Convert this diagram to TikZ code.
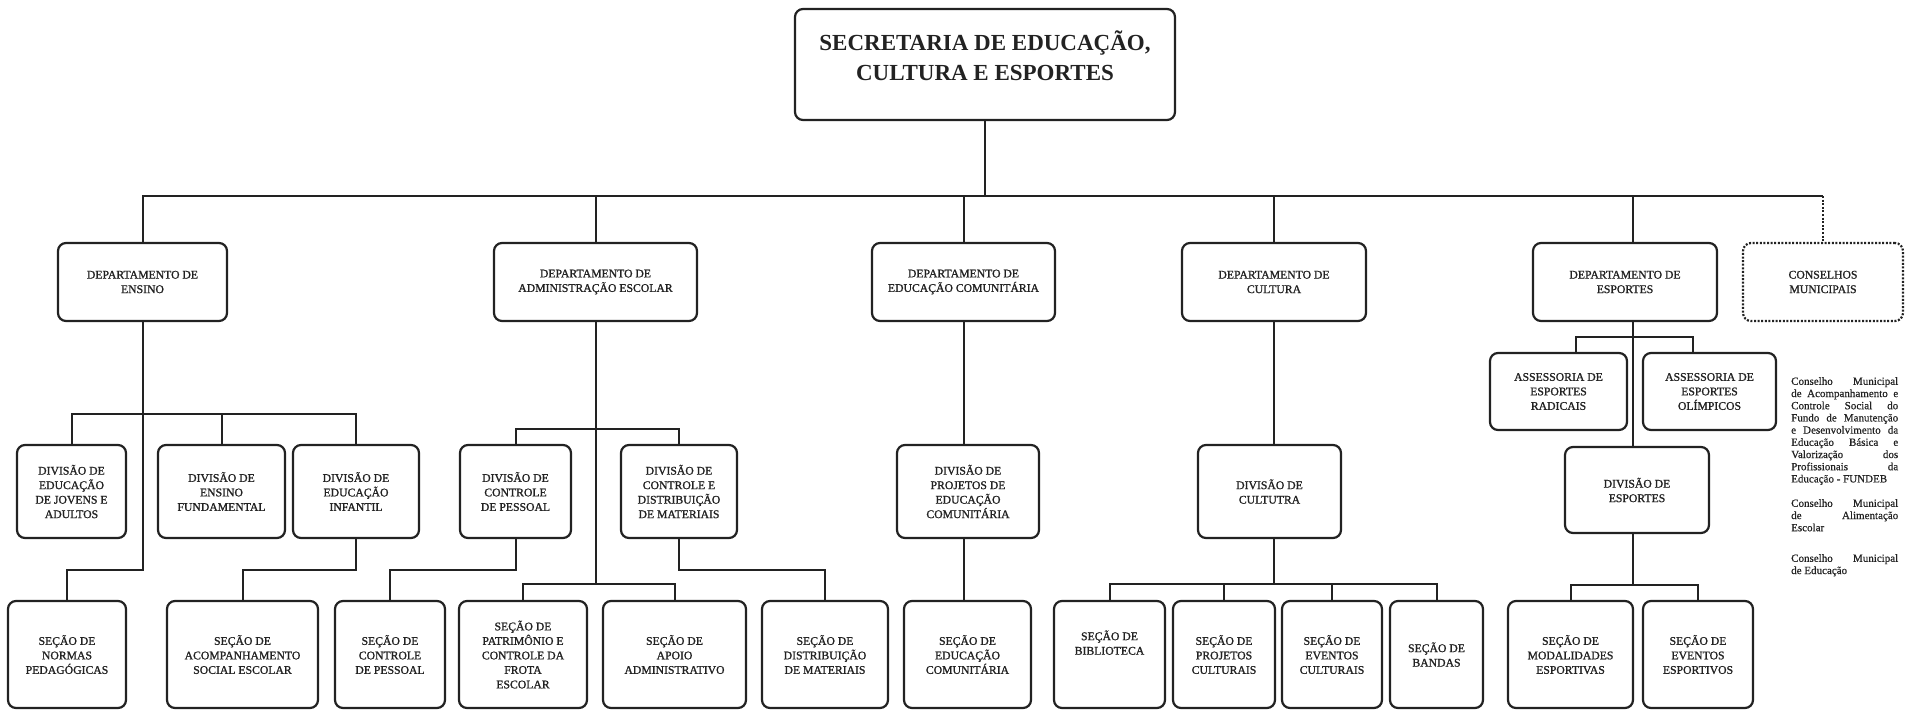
\documentclass[tikz,border=0pt]{standalone}
\usepackage{fontspec}
\setmainfont{Liberation Serif}
\newfontfamily\boxfont[FakeBold=1.2]{Liberation Serif}
\newfontfamily\notefont[FakeBold=0.6]{Liberation Serif}
\definecolor{linec}{HTML}{222222}
\begin{document}
\begin{tikzpicture}[x=1pt,y=-1pt,
  box/.style={draw=linec, line width=2.2pt, rounded corners=8pt, fill=white,
    inner sep=0pt, align=center, text=linec,
    font=\boxfont\fontsize{11.7}{14.5}\selectfont},
  dept/.style={box, minimum height=78pt},
  rowone/.style={box, minimum height=93pt},
  rowtwo/.style={box, minimum height=107pt},
  conn/.style={draw=linec, line width=2pt},
  dotline/.style={draw=linec, line width=2pt, dash pattern=on 2pt off 1.6pt},
  note/.style={anchor=north west, inner sep=0pt, align=left, text=linec,
    font=\notefont\fontsize{11}{12.2}\selectfont}]
\useasboundingbox (0,0) rectangle (1909,710);
% top
\node[box, minimum width=380pt, minimum height=111pt, text depth=18pt,
  font=\bfseries\fontsize{23}{30}\selectfont] (sec) at (985,64.5)
  {SECRETARIA DE EDUCAÇÃO,\\CULTURA E ESPORTES};
% departments
\node[dept, minimum width=169pt] (ens) at (142.5,282) {DEPARTAMENTO DE\\ENSINO};
\node[dept, minimum width=203pt] (adm) at (595.5,282) {DEPARTAMENTO DE\\ADMINISTRAÇÃO ESCOLAR};
\node[dept, minimum width=183pt] (edc) at (963.5,282) {DEPARTAMENTO DE\\EDUCAÇÃO COMUNITÁRIA};
\node[dept, minimum width=184pt] (cul) at (1274,282) {DEPARTAMENTO DE\\CULTURA};
\node[dept, minimum width=184pt] (esp) at (1625,282) {DEPARTAMENTO DE\\ESPORTES};
\node[dept, minimum width=160pt, dash pattern=on 2pt off 1.6pt] (con) at (1823,282) {CONSELHOS\\MUNICIPAIS};
% divisions
\node[rowone, minimum width=109pt] (jov) at (71.5,491.5) {DIVISÃO DE\\EDUCAÇÃO\\DE JOVENS E\\ADULTOS};
\node[rowone, minimum width=127pt] (fun) at (221.5,491.5) {DIVISÃO DE\\ENSINO\\FUNDAMENTAL};
\node[rowone, minimum width=126pt] (inf) at (356,491.5) {DIVISÃO DE\\EDUCAÇÃO\\INFANTIL};
\node[rowone, minimum width=111pt] (dcp) at (515.5,491.5) {DIVISÃO DE\\CONTROLE\\DE PESSOAL};
\node[rowone, minimum width=116pt] (dcd) at (679,491.5) {DIVISÃO DE\\CONTROLE E\\DISTRIBUIÇÃO\\DE MATERIAIS};
\node[rowone, minimum width=142pt] (dpe) at (968,491.5) {DIVISÃO DE\\PROJETOS DE\\EDUCAÇÃO\\COMUNITÁRIA};
\node[rowone, minimum width=143pt] (dcu) at (1269.5,491.5) {DIVISÃO DE\\CULTUTRA};
\node[box, minimum width=137pt, minimum height=77pt] (ara) at (1558.5,391.5) {ASSESSORIA DE\\ESPORTES\\RADICAIS};
\node[box, minimum width=133pt, minimum height=77pt] (aol) at (1709.5,391.5) {ASSESSORIA DE\\ESPORTES\\OLÍMPICOS};
\node[box, minimum width=144pt, minimum height=86pt] (des) at (1637,490) {DIVISÃO DE\\ESPORTES};
% sections
\node[rowtwo, minimum width=118pt] (nor) at (67,654.5) {SEÇÃO DE\\NORMAS\\PEDAGÓGICAS};
\node[rowtwo, minimum width=151pt] (aco) at (242.5,654.5) {SEÇÃO DE\\ACOMPANHAMENTO\\SOCIAL ESCOLAR};
\node[rowtwo, minimum width=110pt] (scp) at (390,654.5) {SEÇÃO DE\\CONTROLE\\DE PESSOAL};
\node[rowtwo, minimum width=128pt] (pat) at (523,654.5) {SEÇÃO DE\\PATRIMÔNIO E\\CONTROLE DA\\FROTA\\ESCOLAR};
\node[rowtwo, minimum width=143pt] (apo) at (674.5,654.5) {SEÇÃO DE\\APOIO\\ADMINISTRATIVO};
\node[rowtwo, minimum width=126pt] (dis) at (825,654.5) {SEÇÃO DE\\DISTRIBUIÇÃO\\DE MATERIAIS};
\node[rowtwo, minimum width=127pt] (secc) at (967.5,654.5) {SEÇÃO DE\\EDUCAÇÃO\\COMUNITÁRIA};
\node[rowtwo, minimum width=111pt, text depth=24pt] (bib) at (1109.5,654.5) {SEÇÃO DE\\BIBLIOTECA};
\node[rowtwo, minimum width=102pt] (pcu) at (1224,654.5) {SEÇÃO DE\\PROJETOS\\CULTURAIS};
\node[rowtwo, minimum width=100pt] (evc) at (1332,654.5) {SEÇÃO DE\\EVENTOS\\CULTURAIS};
\node[rowtwo, minimum width=93pt] (ban) at (1436.5,654.5) {SEÇÃO DE\\BANDAS};
\node[rowtwo, minimum width=125pt] (mod) at (1570.5,654.5) {SEÇÃO DE\\MODALIDADES\\ESPORTIVAS};
\node[rowtwo, minimum width=110pt] (eve) at (1698,654.5) {SEÇÃO DE\\EVENTOS\\ESPORTIVOS};
% notes
\node[note] (n1) at (1791,377) {%
\makebox[107pt][s]{Conselho Municipal}\\
\makebox[107pt][s]{de Acompanhamento e}\\
\makebox[107pt][s]{Controle Social do}\\
\makebox[107pt][s]{Fundo de Manutenção}\\
\makebox[107pt][s]{e Desenvolvimento da}\\
\makebox[107pt][s]{Educação Básica e}\\
\makebox[107pt][s]{Valorização dos}\\
\makebox[107pt][s]{Profissionais da}\\
Educação - FUNDEB};
\node[note] (n2) at (1791,499) {%
\makebox[107pt][s]{Conselho Municipal}\\
\makebox[107pt][s]{de Alimentação}\\
Escolar};
\node[note] (n3) at (1791,554) {%
\makebox[107pt][s]{Conselho Municipal}\\
de Educação};
% coordinates
\coordinate (busT) at (0,196);
\coordinate (b1) at (0,414);
\coordinate (b2) at (0,429);
\coordinate (l2) at (0,570);
\coordinate (l3) at (0,584);
\coordinate (l4) at (0,585);
\coordinate (ex) at (1633,0);
\coordinate (ax1) at (1576,337);
\coordinate (ax2) at (1693,337);
% top level
\draw[conn] (sec.south) -- (sec.south |- busT);
\draw[conn] (ens.north) |- (con.north |- busT);
\draw[dotline] (con.north |- busT) -- (con.north);
\foreach \n in {adm,edc,cul} \draw[conn] (\n.north) -- (\n.north |- busT);
\draw[conn] (esp.north -| ex) -- (ex |- busT);
% ensino
\draw[conn] (ens.south) -- (ens.south |- l2) -| (nor.north);
\draw[conn] (jov.north) |- (inf.north |- b1) -- (inf.north);
\draw[conn] (fun.north) -- (fun.north |- b1);
\draw[conn] (inf.south) -- (inf.south |- l2) -| (aco.north);
% administracao
\draw[conn] (adm.south) -- (adm.south |- l3);
\draw[conn] (dcp.north) |- (dcd.north |- b2) -- (dcd.north);
\draw[conn] (pat.north) |- (apo.north |- l3) -- (apo.north);
\draw[conn] (dcp.south) -- (dcp.south |- l2) -| (scp.north);
\draw[conn] (dcd.south) -- (dcd.south |- l2) -| (dis.north);
% educacao comunitaria
\draw[conn] (edc.south) -- (edc.south |- dpe.north);
\draw[conn] (edc.south |- dpe.south) -- (edc.south |- secc.north);
% cultura
\draw[conn] (cul.south) -- (cul.south |- dcu.north);
\draw[conn] (cul.south |- dcu.south) -- (cul.south |- l3);
\draw[conn] (bib.north) |- (ban.north |- l3) -- (ban.north);
\draw[conn] (pcu.north) -- (pcu.north |- l3);
\draw[conn] (evc.north) -- (evc.north |- l3);
% esportes
\draw[conn] (esp.south -| ex) -- (des.north -| ex);
\draw[conn] (ara.north -| ax1) |- (ax2) -- (aol.north -| ax2);
\draw[conn] (des.south -| ex) -- (ex |- l4);
\draw[conn] (mod.north) |- (eve.north |- l4) -- (eve.north);
\end{tikzpicture}
\end{document}
